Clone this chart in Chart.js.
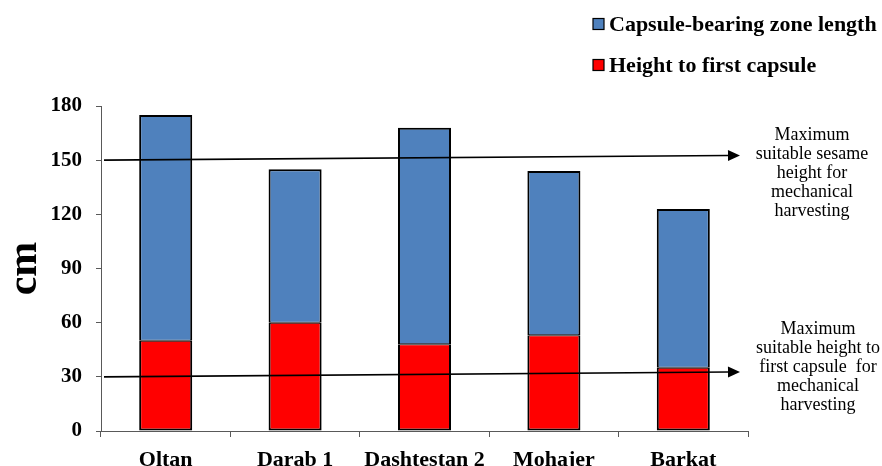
<!DOCTYPE html>
<html>
<head>
<meta charset="utf-8">
<script src="https://cdn.jsdelivr.net/npm/chart.js@4.4.1/dist/chart.umd.min.js"></script>
<style>
  html, body { margin: 0; padding: 0; background: #ffffff; }
  #wrap { width: 882px; height: 466px; position: relative; }
</style>
</head>
<body>
<div id="wrap"><canvas id="chart" width="882" height="466"></canvas></div>
<script>
// Sesame cultivars
const categories = ['Oltan', 'Darab 1', 'Dashtestan 2', 'Mohajer', 'Barkat'];
// Height from the ground to the first capsule (cm)
const heightToFirstCapsule = [50, 60, 48, 53, 35];
// Length of the capsule-bearing zone (cm), stacked on top
const capsuleZoneLength = [125, 85, 120, 91, 88];
// Y axis ticks
const yTicks = [0, 30, 60, 90, 120, 150, 180];

// Reference limits for mechanical harvesting: [value at left, value at right]
const maxPlantHeightLine = [150, 152.6];
const maxFirstCapsuleLine = [30, 32.7];
const maxPlantHeightNote = ['Maximum', 'suitable sesame', 'height for', 'mechanical', 'harvesting'];
const maxFirstCapsuleNote = ['Maximum', 'suitable height to', 'first capsule  for', 'mechanical', 'harvesting'];

const SERIF = '"Liberation Serif", "Times New Roman", serif';
const AXIS_COLOR = '#595959';

// Draws the two limit arrows, their notes and the legend
const overlayPlugin = {
  id: 'overlay',
  afterDatasetsDraw(chart) {
    const { ctx, chartArea, scales } = chart;
    const y = scales.y;

    function arrow(vals) {
      const x0 = chartArea.left + 3;
      const x1 = chartArea.right - 8;
      const y0 = y.getPixelForValue(vals[0]);
      const y1 = y.getPixelForValue(vals[1]);
      const ang = Math.atan2(y1 - y0, x1 - x0);
      const head = 12, half = 5.5;
      ctx.save();
      ctx.strokeStyle = '#000';
      ctx.fillStyle = '#000';
      ctx.lineWidth = 1.6;
      ctx.beginPath();
      ctx.moveTo(x0, y0);
      ctx.lineTo(x1 - head * Math.cos(ang), y1 - head * Math.sin(ang));
      ctx.stroke();
      ctx.beginPath();
      ctx.moveTo(x1, y1);
      ctx.lineTo(x1 - head * Math.cos(ang) + half * Math.sin(ang), y1 - head * Math.sin(ang) - half * Math.cos(ang));
      ctx.lineTo(x1 - head * Math.cos(ang) - half * Math.sin(ang), y1 - head * Math.sin(ang) + half * Math.cos(ang));
      ctx.closePath();
      ctx.fill();
      ctx.restore();
      return y1;
    }

    function note(lines, cx, firstY) {
      ctx.save();
      ctx.fillStyle = '#000';
      ctx.font = '18px ' + SERIF;
      ctx.textAlign = 'center';
      ctx.textBaseline = 'middle';
      lines.forEach((t, i) => ctx.fillText(t, cx, firstY + i * 19));
      ctx.restore();
    }

    const yTop = arrow(maxPlantHeightLine);
    const yBot = arrow(maxFirstCapsuleLine);
    note(maxPlantHeightNote, chartArea.right + 64, yTop - 20);
    note(maxFirstCapsuleNote, chartArea.right + 70, yBot - 43);

    // Legend: top series first
    const items = [chart.data.datasets[1], chart.data.datasets[0]];
    ctx.save();
    ctx.font = 'bold 22px ' + SERIF;
    ctx.textBaseline = 'middle';
    ctx.textAlign = 'left';
    items.forEach((ds, i) => {
      const cy = 24 + i * 41;
      ctx.fillStyle = ds.backgroundColor;
      ctx.fillRect(593, cy - 5.5, 11, 11);
      ctx.strokeStyle = '#000';
      ctx.lineWidth = 1.2;
      ctx.strokeRect(593, cy - 5.5, 11, 11);
      ctx.fillStyle = '#000';
      ctx.fillText(ds.label, 609, cy + 1);
    });
    ctx.restore();
  }
};

new Chart(document.getElementById('chart'), {
  type: 'bar',
  data: {
    labels: categories,
    datasets: [
      {
        label: 'Height to first capsule',
        data: heightToFirstCapsule,
        backgroundColor: '#FF0000',
        borderColor: '#000000',
        borderWidth: { top: 1, left: 2, right: 2, bottom: 2 },
        borderSkipped: false
      },
      {
        label: 'Capsule-bearing zone length',
        data: capsuleZoneLength,
        backgroundColor: '#4F81BD',
        borderColor: '#000000',
        borderWidth: { top: 2, left: 2, right: 2, bottom: 1 },
        borderSkipped: false
      }
    ]
  },
  options: {
    responsive: false,
    animation: false,
    events: [],
    layout: { padding: { top: 106, right: 134, bottom: 0, left: 0 } },
    datasets: { bar: { categoryPercentage: 1, barPercentage: 0.41 } },
    plugins: {
      legend: { display: false },
      tooltip: { enabled: false },
      title: { display: false }
    },
    scales: {
      x: {
        stacked: true,
        afterFit(scale) { scale.height = 35; },
        border: { display: true, color: AXIS_COLOR, width: 1 },
        grid: { drawOnChartArea: false, drawTicks: true, tickLength: 6, color: AXIS_COLOR, offset: true },
        ticks: {
          color: '#000',
          font: { family: SERIF, size: 22, weight: 'bold' },
          padding: 10,
          maxRotation: 0,
          autoSkip: false
        }
      },
      y: {
        stacked: true,
        min: 0,
        max: 180,
        afterFit(scale) { scale.width = 101; },
        afterBuildTicks(scale) { scale.ticks = yTicks.map(v => ({ value: v })); },
        border: { display: true, color: AXIS_COLOR, width: 1 },
        grid: { drawOnChartArea: false, drawTicks: true, tickLength: 5, color: AXIS_COLOR },
        ticks: {
          color: '#000',
          font: { family: SERIF, size: 21, weight: 'bold' },
          padding: 14
        },
        title: {
          display: true,
          text: 'cm',
          color: '#000',
          font: { family: SERIF, size: 42, weight: 'bold' },
          padding: { top: 0, bottom: 0 }
        }
      }
    }
  },
  plugins: [overlayPlugin]
});
</script>
</body>
</html>
